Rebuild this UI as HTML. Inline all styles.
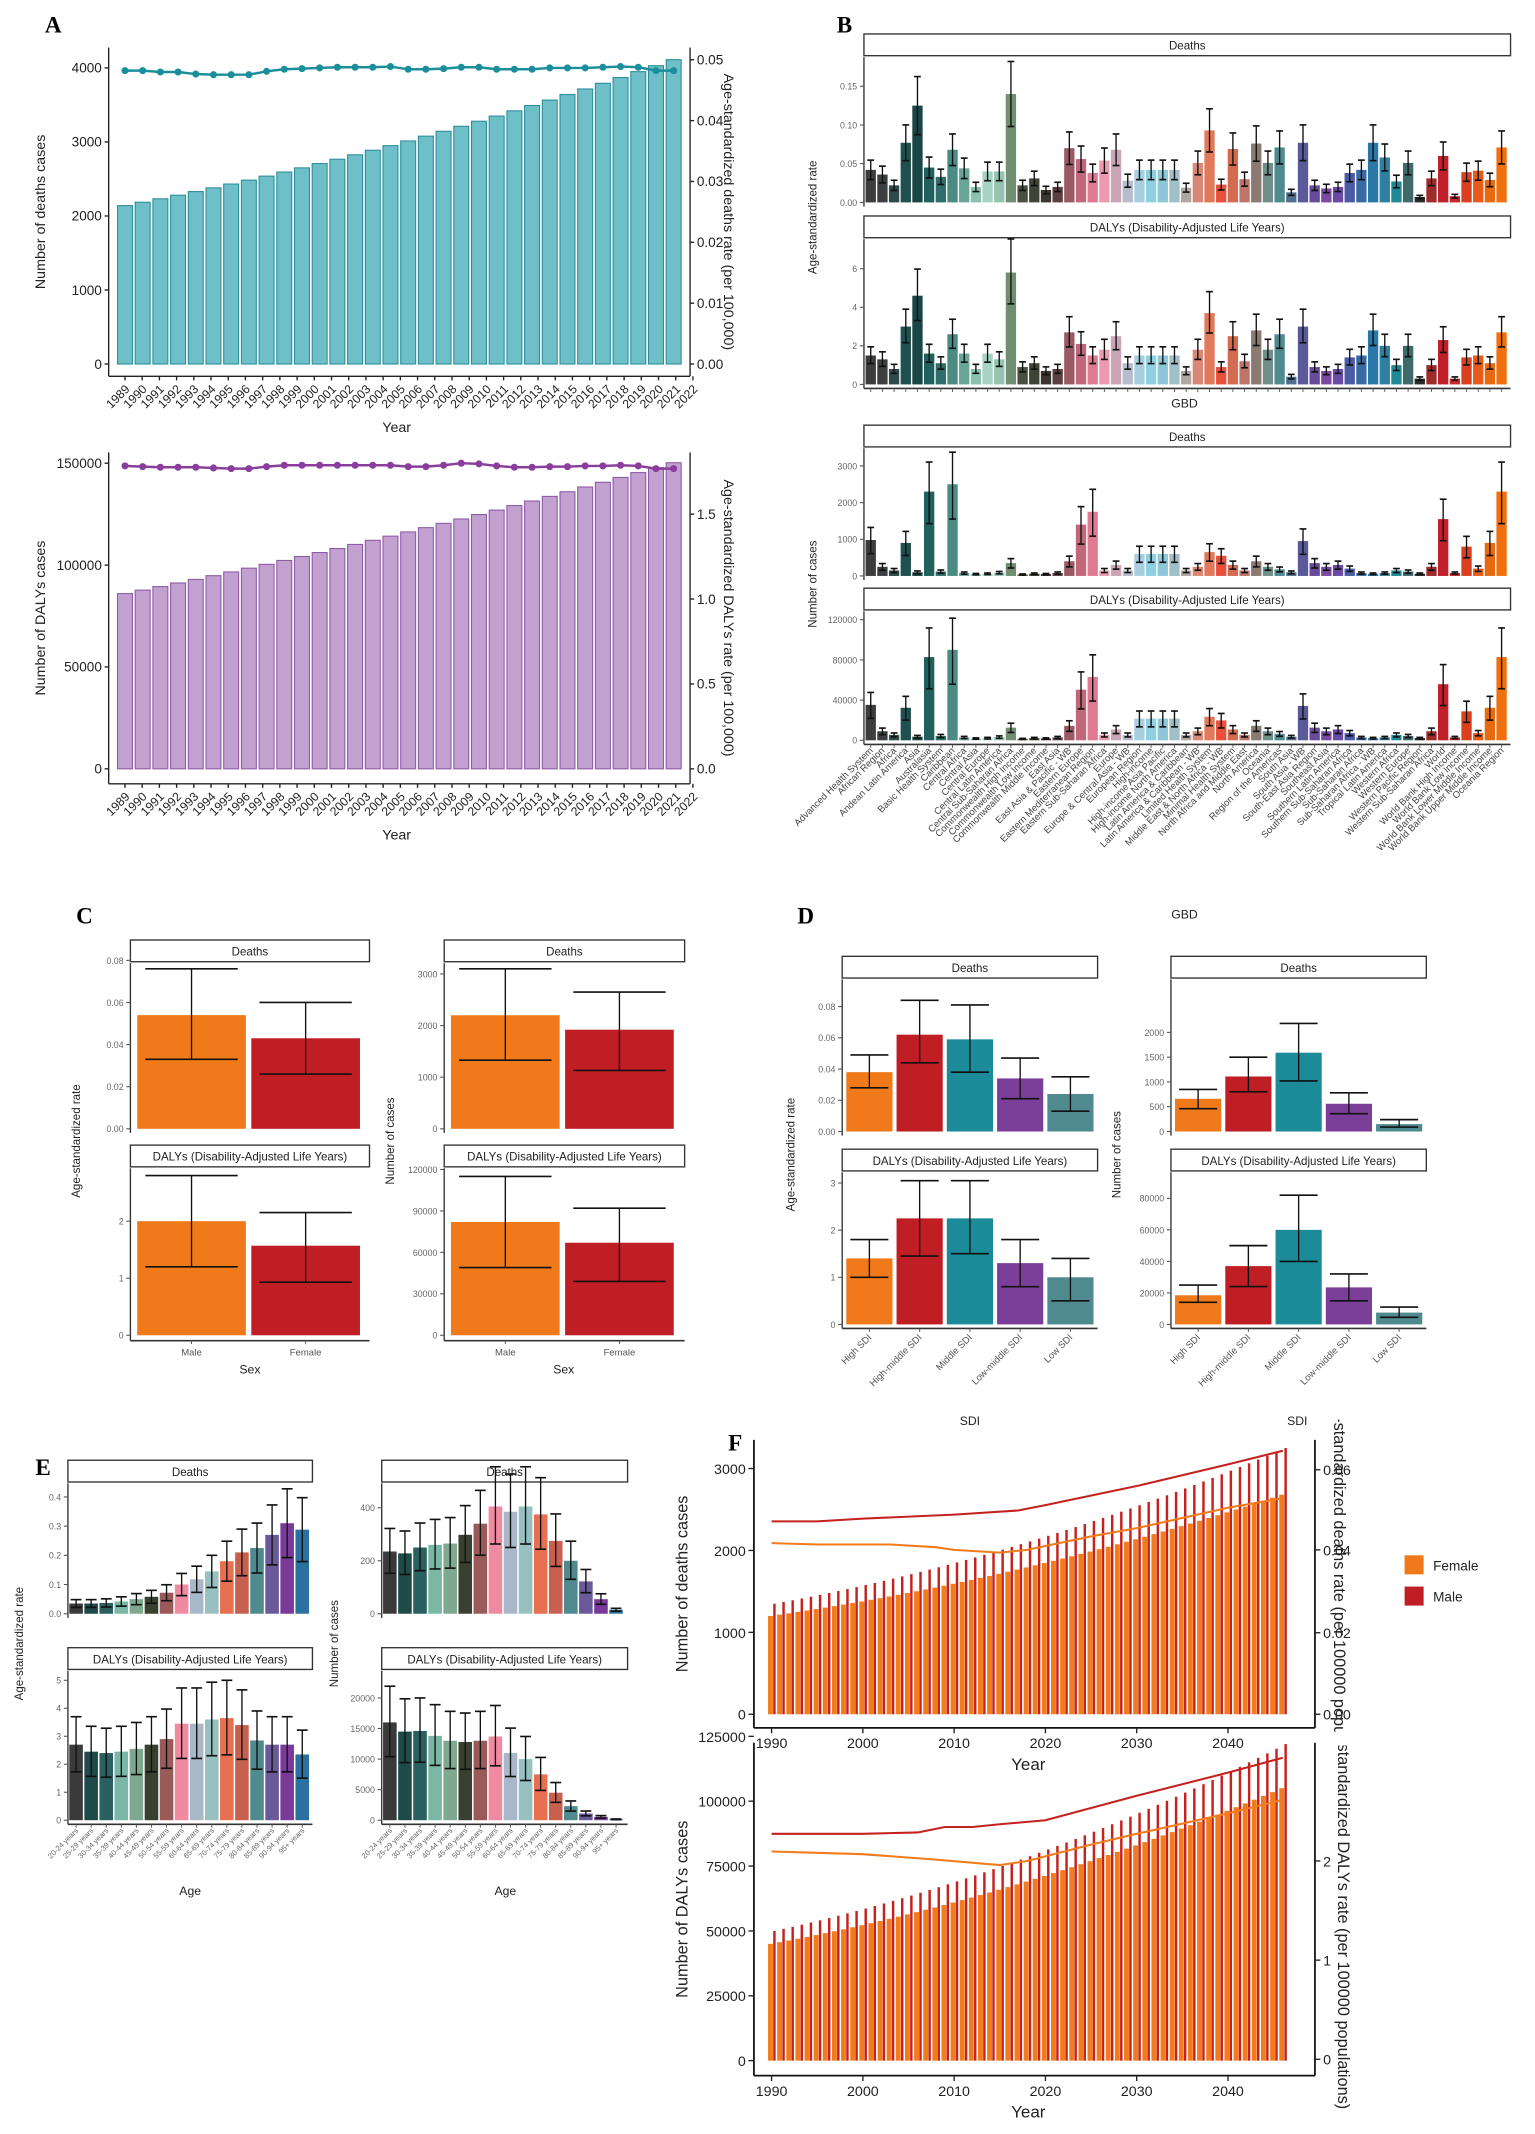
<!DOCTYPE html>
<html><head><meta charset="utf-8"><style>
html,body{margin:0;padding:0;background:#fff}
svg{display:block}
</style></head><body>
<svg id="s" xmlns="http://www.w3.org/2000/svg" width="1535" height="2134" viewBox="0 0 1130 1571" preserveAspectRatio="none" font-family="Liberation Sans, Arial, sans-serif">
<rect width="1130" height="1571" fill="#fff"/>
<text x="33" y="24" font-family="Liberation Serif, serif" font-weight="bold" font-size="17">A</text>
<text x="616" y="24" font-family="Liberation Serif, serif" font-weight="bold" font-size="17">B</text>
<text x="56" y="680" font-family="Liberation Serif, serif" font-weight="bold" font-size="17">C</text>
<text x="587" y="680" font-family="Liberation Serif, serif" font-weight="bold" font-size="17">D</text>
<text x="26" y="1086" font-family="Liberation Serif, serif" font-weight="bold" font-size="17">E</text>
<text x="536" y="1068" font-family="Liberation Serif, serif" font-weight="bold" font-size="17">F</text>
<defs><clipPath id="cf1"><rect x="960" y="1045" width="40" height="230"/></clipPath><clipPath id="cf2"><rect x="960" y="1285" width="40" height="285"/></clipPath></defs>
</svg>
<script>
const S=document.getElementById('s');const NS='http://www.w3.org/2000/svg';
function el(t,a,txt){const e=document.createElementNS(NS,t);for(const k in a)e.setAttribute(k,a[k]);if(txt!==undefined)e.textContent=txt;S.appendChild(e);return e;}
function L(x1,y1,x2,y2,c,w){return el('line',{x1,y1,x2,y2,stroke:c||'#222','stroke-width':w||1});}
function R(x,y,w,h,f,s,sw){return el('rect',{x,y,width:w,height:h,fill:f,stroke:s||'none','stroke-width':sw||0});}
function T(x,y,s,sz,anc,rot,col,extra){const a={x,y,'font-size':sz||8,'text-anchor':anc||'middle',fill:col||'#333'};if(rot)a.transform=`rotate(${rot} ${x} ${y})`;if(extra)Object.assign(a,extra);return el('text',a,s);}

/* ---------- Panel A ---------- */
function panelA(o){
  const n=32;
  for(let i=0;i<n;i++){const c=92+i*13.03;const v=o.val(i);const y=o.yL(v);R(c-5.5,y,11,o.yL(0)-y,o.fill,o.stroke,0.8);}
  let pts=[];for(let i=0;i<n;i++){pts.push([92+i*13.03,o.lineY[i]]);}
  el('polyline',{points:pts.map(p=>p.join(',')).join(' '),fill:'none',stroke:o.lc,'stroke-width':1.8});
  pts.forEach(p=>el('circle',{cx:p[0],cy:p[1],r:2.6,fill:o.lc}));
  L(80,o.top,80,o.bot,'#222',1);L(80,o.bot,508,o.bot,'#222',1);L(508,o.top,508,o.bot,'#222',1);
  o.lt.forEach(t=>{const y=o.yL(t);L(77,y,80,y);T(75,y+3.5,String(t),10,'end',0,'#222',{'font-family':'Liberation Sans Narrow, Liberation Sans, sans-serif'});});
  o.rt.forEach(t=>{const y=o.yR(t[0]);L(508,y,511,y);T(513,y+3.5,t[1],10,'start',0,'#222',{'font-family':'Liberation Sans Narrow, Liberation Sans, sans-serif'});});
  for(let k=0;k<34;k++){const x=92+k*12.67;L(x,o.bot,x,o.bot+3);T(x+4,o.bot+10,String(1989+k),9,'end',-45,'#222');}
  T(292,o.bot+41,'Year',10.5,'middle',0,'#222');
  T(33,(o.top+o.bot)/2,o.ylab,10.5,'middle',-90,'#222');
  T(533,(o.top+o.bot)/2,o.rlab,10.5,'middle',90,'#222');
}
const ly1=[52,52,53,53,54.5,55,55,55,52.5,51,50.5,50,49.5,49.5,49.5,49,51,51,50.5,49.5,49.5,51,51,51,50,50,50,49.5,49,49.5,52,52];
panelA({val:i=>2140+i*45+i*i*0.6,yL:v=>268-v*0.0545,yR:v=>268-v*4480,fill:'#6fbfc9',stroke:'#2b8f9b',lc:'#1a8f9b',lineY:ly1,
 top:35,bot:277,lt:[0,1000,2000,3000,4000],rt:[[0,'0.00'],[0.01,'0.01'],[0.02,'0.02'],[0.03,'0.03'],[0.04,'0.04'],[0.05,'0.05']],
 ylab:'Number of deaths cases',rlab:'Age-standardized deaths rate (per 100,000)'});
const ly2=[343,343.5,344,344,344,344.5,345,345,343.5,342.5,342.5,342.5,342.5,342.5,342.5,342.5,343.5,343.5,342.5,341,341.5,343,344,344,343.5,343.5,343,343,342.5,343,345,345];
panelA({val:i=>86000+i*1700+i*i*12,yL:v=>566-v*0.0015,yR:v=>566-v*125,fill:'#c2a1d1',stroke:'#8e5aa6',lc:'#8a3d9d',lineY:ly2,
 top:333,bot:577,lt:[0,50000,100000,150000],rt:[[0,'0.0'],[0.5,'0.5'],[1,'1.0'],[1.5,'1.5']],
 ylab:'Number of DALYs cases',rlab:'Age-standardized DALYs rate (per 100,000)'});

/* ---------- generic facet ---------- */
function facet(o){
  R(o.x0,o.sy,o.x1-o.x0,16,'#fff','#333',1);T((o.x0+o.x1)/2,o.sy+11.5,o.title,o.tsz||8.5,'middle',0,'#222');
  L(o.x0,o.sy+17,o.x0,o.axb,'#333',1);
  o.ticks.forEach(t=>{const y=o.base-t[0]*o.k;L(o.x0-3,y,o.x0,y,'#555',0.8);T(o.x0-5,y+2.5,t[1],o.fsz||7,'end',0,'#666');});
  o.bars.forEach(b=>{const y=o.base-b.v*o.k;R(b.c-o.bw/2,y,o.bw,o.base-y,b.col);
    const yh=o.base-b.hi*o.k,yl=o.base-b.lo*o.k,cw=o.cw||o.bw*0.6;
    L(b.c,yh,b.c,yl,'#111',1);L(b.c-cw/2,yh,b.c+cw/2,yh,'#111',1.2);L(b.c-cw/2,yl,b.c+cw/2,yl,'#111',1.2);});
  if(o.xaxis){L(o.x0,o.axb,o.x1,o.axb,'#333',1.2);o.bars.forEach(b=>L(b.c,o.axb,b.c,o.axb+2.5,'#555',0.7));}
}

/* ---------- Panel B ---------- */
const bcol=['#3d3d3d','#3a4040','#2f4a4a','#1f4f4f','#1a4545','#22605e','#2e6f6c','#4a8c84','#6aa59a','#8cc1b2','#a6d3c3','#94c3b0','#6f8f70','#4a4f40','#3d4435','#3b3530','#5a4040','#9a5a64','#c0687a','#e07a92','#ec9ab0','#c9a5b5','#b7bccc','#a8cfe0','#8fd0e0','#8ec8d8','#a0bfc8','#b0a8a0','#d98878','#e07a5a','#e8503c','#d46a50','#c0736a','#8a7a72','#6f8f8a','#4f8a8f','#4f6f8f','#5a5a9a','#6a4a9a','#7a4aa0','#6a4aa5','#4a5aa5','#3a6aa5','#2a78a8','#2f7fa0','#1f8a95','#3f6a6a','#2a2a2a','#a02a2a','#c0202a','#c82828','#d84020','#e85a18','#e86a10','#f07010'];
const bd=[.042,.036,.022,.077,.125,.045,.033,.068,.044,.020,.040,.040,.14,.022,.031,.016,.020,.070,.056,.038,.054,.068,.028,.042,.042,.042,.042,.019,.051,.093,.023,.069,.030,.076,.051,.071,.013,.077,.022,.018,.020,.038,.042,.077,.058,.027,.051,.007,.031,.060,.008,.039,.041,.029,.071];
const bD=[1.5,1.3,.8,3.0,4.6,1.6,1.1,2.6,1.6,.8,1.6,1.3,5.8,.9,1.1,.7,.8,2.7,2.1,1.5,1.8,2.5,1.1,1.5,1.5,1.5,1.5,.7,1.8,3.7,.9,2.5,1.2,2.8,1.8,2.6,.4,3.0,.9,.7,.8,1.4,1.5,2.8,2.0,1.0,2.0,.3,1.0,2.3,.3,1.4,1.5,1.1,2.7];
const bn=[980,250,150,900,100,2300,120,2500,80,50,60,90,350,40,60,50,80,400,1400,1750,150,300,150,600,600,600,600,150,250,650,550,300,150,400,250,180,100,950,350,250,300,200,80,60,80,150,120,60,250,1550,80,800,200,900,2300];
const bnames=['Advanced Health System','African Region','Africa','Andean Latin America','Asia','Australasia','Basic Health System','Caribbean','Central Africa','Central Asia','Central Europe','Central Latin America','Central Sub-Saharan Africa','Commonwealth High Income','Commonwealth Low Income','Commonwealth Middle Income','East Asia','East Asia & Pacific - WB','Eastern Europe','Eastern Mediterranean Region','Eastern Sub-Saharan Africa','Europe','Europe & Central Asia - WB','European Region','High-income','High-income Asia Pacific','High-income North America','Latin America & Caribbean','Latin America & Caribbean - WB','Limited Health System','Middle East & North Africa - WB','Minimal Health System','North Africa and Middle East','North America','Oceania','Region of the Americas','South Asia','South Asia - WB','South-East Asia Region','Southeast Asia','Southern Latin America','Southern Sub-Saharan Africa','Sub-Saharan Africa','Sub-Saharan Africa - WB','Tropical Latin America','Western Africa','Western Europe','Western Pacific Region','Western Sub-Saharan Africa','World','World Bank High Income','World Bank Low Income','World Bank Lower Middle Income','World Bank Upper Middle Income','Oceania Region'];
const bc=i=>641+i*8.6;
function mk(arr,hf,lf){return arr.map((v,i)=>({c:bc(i),v,hi:v*hf,lo:v*lf,col:bcol[i]}));}
facet({x0:636,x1:1112,sy:25,title:'Deaths',base:149,k:570,axb:152,bw:7.6,cw:5,fsz:6.5,ticks:[[0,'0.00'],[.05,'0.05'],[.1,'0.10'],[.15,'0.15']],bars:mk(bd,1.3,0.7)});
facet({x0:636,x1:1112,sy:159,title:'DALYs (Disability-Adjusted Life Years)',base:283,k:14.2,axb:286,bw:7.6,cw:5,fsz:6.5,xaxis:true,ticks:[[0,'0'],[2,'2'],[4,'4'],[6,'6']],bars:mk(bD,1.3,0.72)});
T(872,300,'GBD',9,'middle',0,'#222');
T(601,160,'Age-standardized rate',8.5,'middle',-90,'#222');
facet({x0:636,x1:1112,sy:313,title:'Deaths',base:424,k:0.027,axb:427,bw:7.6,cw:5,fsz:6.5,ticks:[[0,'0'],[1000,'1000'],[2000,'2000'],[3000,'3000']],bars:mk(bn,1.35,0.62)});
facet({x0:636,x1:1112,sy:433,title:'DALYs (Disability-Adjusted Life Years)',base:545,k:0.00074,axb:548,bw:7.6,cw:5,fsz:6.5,xaxis:true,ticks:[[0,'0'],[40000,'40000'],[80000,'80000'],[120000,'120000']],bars:mk(bn.map(v=>v*36),1.35,0.62)});
bnames.forEach((nm,i)=>T(bc(i)+2,553,nm,7,'end',-45,'#444'));
T(872,676,'GBD',9,'middle',0,'#222');
T(601,430,'Number of cases',8.5,'middle',-90,'#222');

/* ---------- Panel C ---------- */
const OR='#f07a1a',RD='#bf1e24';
function cb(vals){return [{c:141,v:vals[0],hi:vals[1],lo:vals[2],col:OR},{c:225,v:vals[3],hi:vals[4],lo:vals[5],col:RD}];}
facet({x0:96,x1:272,sy:692,title:'Deaths',base:831,k:1550,axb:834,bw:80,cw:68,fsz:6.5,ticks:[[0,'0.00'],[.02,'0.02'],[.04,'0.04'],[.06,'0.06'],[.08,'0.08']],bars:cb([.054,.076,.033,.043,.060,.026])});
facet({x0:96,x1:272,sy:843,title:'DALYs (Disability-Adjusted Life Years)',base:983,k:42,axb:987,bw:80,cw:68,fsz:6.5,xaxis:true,ticks:[[0,'0'],[1,'1'],[2,'2']],bars:cb([2.0,2.8,1.2,1.57,2.15,0.93])});
T(141,998,'Male',7,'middle',0,'#555');T(225,998,'Female',7,'middle',0,'#555');T(184,1011,'Sex',9,'middle',0,'#222');
T(59,840,'Age-standardized rate',8.5,'middle',-90,'#222');
function cb2(vals){return [{c:372,v:vals[0],hi:vals[1],lo:vals[2],col:OR},{c:456,v:vals[3],hi:vals[4],lo:vals[5],col:RD}];}
facet({x0:327,x1:504,sy:692,title:'Deaths',base:831,k:0.038,axb:834,bw:80,cw:68,fsz:6.5,ticks:[[0,'0'],[1000,'1000'],[2000,'2000'],[3000,'3000']],bars:cb2([2200,3100,1330,1920,2650,1130])});
facet({x0:327,x1:504,sy:843,title:'DALYs (Disability-Adjusted Life Years)',base:983,k:0.001017,axb:987,bw:80,cw:68,fsz:6.5,xaxis:true,ticks:[[0,'0'],[30000,'30000'],[60000,'60000'],[90000,'90000'],[120000,'120000']],bars:cb2([82000,115000,49000,67000,92000,39000])});
T(372,998,'Male',7,'middle',0,'#555');T(456,998,'Female',7,'middle',0,'#555');T(415,1011,'Sex',9,'middle',0,'#222');
T(290,840,'Number of cases',8.5,'middle',-90,'#222');

/* ---------- Panel D ---------- */
const dcol=['#f07a1a','#bf1e24','#1b8a99','#7b3f99','#4f8a8f'];
const sdi=['High SDI','High-middle SDI','Middle SDI','Low-middle SDI','Low SDI'];
function db(x0,a){return a.map((t,i)=>({c:x0+20+i*37,v:t[0],hi:t[1],lo:t[2],col:dcol[i]}));}
facet({x0:620,x1:808,sy:704,title:'Deaths',base:833,k:1150,axb:836,bw:34,cw:28,fsz:6.5,ticks:[[0,'0.00'],[.02,'0.02'],[.04,'0.04'],[.06,'0.06'],[.08,'0.08']],bars:db(620,[[.038,.049,.028],[.062,.084,.044],[.059,.081,.038],[.034,.047,.021],[.024,.035,.013]])});
facet({x0:620,x1:808,sy:846,title:'DALYs (Disability-Adjusted Life Years)',base:975,k:34.7,axb:978,bw:34,cw:28,fsz:6.5,xaxis:true,ticks:[[0,'0'],[1,'1'],[2,'2'],[3,'3']],bars:db(620,[[1.4,1.8,1.0],[2.25,3.05,1.45],[2.25,3.05,1.5],[1.3,1.8,0.8],[1.0,1.4,0.5]])});
sdi.forEach((s,i)=>T(620+22+i*37,985,s,7,'end',-45,'#555'));
T(714,1049,'SDI',9,'middle',0,'#222');T(585,850,'Age-standardized rate',8.5,'middle',-90,'#222');
facet({x0:862,x1:1050,sy:704,title:'Deaths',base:833,k:0.0365,axb:836,bw:34,cw:28,fsz:6.5,ticks:[[0,'0'],[500,'500'],[1000,'1000'],[1500,'1500'],[2000,'2000']],bars:db(862,[[660,850,460],[1110,1500,800],[1590,2180,1020],[560,780,360],[150,240,90]])});
facet({x0:862,x1:1050,sy:846,title:'DALYs (Disability-Adjusted Life Years)',base:975,k:0.00116,axb:978,bw:34,cw:28,fsz:6.5,xaxis:true,ticks:[[0,'0'],[20000,'20000'],[40000,'40000'],[60000,'60000'],[80000,'80000']],bars:db(862,[[18500,25000,14000],[37000,50000,24000],[60000,82000,40000],[23500,32000,15000],[7500,11000,4500]])});
sdi.forEach((s,i)=>T(862+22+i*37,985,s,7,'end',-45,'#555'));
T(955,1049,'SDI',9,'middle',0,'#222');T(825,850,'Number of cases',8.5,'middle',-90,'#222');

/* ---------- Panel E ---------- */
const ecol=['#3a3a3a','#1f4a4a','#2a6060','#7ab8a5','#7fa890','#3a4030','#9a5a5a','#f08aa0','#a8b8c8','#98c0c0','#e87050','#c86050','#4f8a8f','#6a5a9a','#7a3a9a','#2a70a0'];
const ages=['20-24 years','25-29 years','30-34 years','35-39 years','40-44 years','45-49 years','50-54 years','55-59 years','60-64 years','65-69 years','70-74 years','75-79 years','80-84 years','85-89 years','90-94 years','95+ years'];
function eb(x0,a,hf,lf){return a.map((v,i)=>({c:x0+6+i*11.1,v,hi:v*hf,lo:v*lf,col:ecol[i]}));}
const er=[.035,.035,.037,.042,.05,.058,.072,.10,.118,.145,.18,.21,.225,.27,.31,.288];
const eD=[2.7,2.45,2.4,2.45,2.55,2.7,2.9,3.45,3.45,3.6,3.65,3.4,2.85,2.7,2.7,2.35];
facet({x0:50,x1:230,sy:1075,title:'Deaths',base:1188,k:215,axb:1191,bw:10,cw:8,fsz:6.5,ticks:[[0,'0.0'],[.1,'0.1'],[.2,'0.2'],[.3,'0.3'],[.4,'0.4']],bars:eb(50,er,1.38,0.62)});
facet({x0:50,x1:230,sy:1213,title:'DALYs (Disability-Adjusted Life Years)',base:1340,k:20.6,axb:1343,bw:10,cw:8,fsz:6.5,xaxis:true,ticks:[[0,'0'],[1,'1'],[2,'2'],[3,'3'],[4,'4'],[5,'5']],bars:eb(50,eD,1.37,0.64)});
ages.forEach((s,i)=>T(50+8+i*11.1,1348,s,5.5,'end',-45,'#666'));
T(140,1395,'Age',9,'middle',0,'#222');T(17,1210,'Age-standardized rate',8.5,'middle',-90,'#222');
const en=[235,228,250,260,265,298,340,405,385,405,375,275,200,122,55,15];
const eN=[16000,14500,14600,13800,13000,12800,13000,13700,11000,10000,7500,4500,2300,1100,550,150];
facet({x0:281,x1:462,sy:1075,title:'Deaths',base:1188,k:0.195,axb:1191,bw:10,cw:8,fsz:6.5,ticks:[[0,'0'],[200,'200'],[400,'400']],bars:eb(281,en,1.37,0.65)});
facet({x0:281,x1:462,sy:1213,title:'DALYs (Disability-Adjusted Life Years)',base:1340,k:0.0045,axb:1343,bw:10,cw:8,fsz:6.5,xaxis:true,ticks:[[0,'0'],[5000,'5000'],[10000,'10000'],[15000,'15000'],[20000,'20000']],bars:eb(281,eN,1.37,0.65)});
ages.forEach((s,i)=>T(281+8+i*11.1,1348,s,5.5,'end',-45,'#666'));
T(372,1395,'Age',9,'middle',0,'#222');T(249,1210,'Number of cases',8.5,'middle',-90,'#222');

/* ---------- Panel F ---------- */
const FO='#f27b1c',FR='#c4211f';
function panelF(o){
  for(let y=1990;y<=2046;y++){const x=568+(y-1990)*6.72;const t=(y-1990)/56;
    const f=o.f0+(o.f1-o.f0)*(0.6*t+0.4*t*t), m=o.m0+(o.m1-o.m0)*(0.6*t+0.4*t*t);
    R(x+1.2,o.yL(m),1.8,o.yL(0)-o.yL(m),FR);R(x-2.6,o.yL(f),3.6,o.yL(0)-o.yL(f),FO);}
  el('polyline',{points:o.red.map(p=>(568+(p[0]-1990)*6.72)+','+p[1]).join(' '),fill:'none',stroke:FR,'stroke-width':1.5});
  el('polyline',{points:o.org.map(p=>(568+(p[0]-1990)*6.72)+','+p[1]).join(' '),fill:'none',stroke:FO,'stroke-width':1.5});
  L(555,o.top,555,o.bot,'#111',1.3);L(555,o.bot,968,o.bot,'#111',1.3);L(968,o.top,968,o.bot,'#111',1.3);
  o.lt.forEach(t=>{const y=o.yL(t);L(551,y,555,y);T(549,y+4,String(t),10.5,'end',0,'#222');});
  o.rt.forEach(t=>{L(968,t[0],972,t[0]);T(974,t[0]+4,t[1],10.5,'start',0,'#222');});
  [1990,2000,2010,2020,2030,2040].forEach(y=>{const x=568+(y-1990)*6.72;L(x,o.bot,x,o.bot+4);T(x,o.bot+15,String(y),10.5,'middle',0,'#222');});
  T(757,o.bot+31,'Year',12.5,'middle',0,'#222');
  T(506,(o.top+o.bot)/2,o.ylab,12,'middle',-90,'#222');
  const g=el('g',{'clip-path':o.clip});const tx=document.createElementNS(NS,'text');
  tx.setAttribute('x',o.rx);tx.setAttribute('y',(o.top+o.bot)/2);tx.setAttribute('font-size','12');tx.setAttribute('text-anchor','middle');tx.setAttribute('fill','#222');tx.setAttribute('transform',`rotate(90 ${o.rx} ${(o.top+o.bot)/2})`);tx.textContent=o.rlab;g.appendChild(tx);
}
panelF({yL:v=>1262-v*0.0603,f0:1200,f1:2680,m0:1350,m1:3250,top:1060,bot:1272,lt:[0,1000,2000,3000],
 rt:[[1262,'0.00'],[1202,'0.02'],[1141,'0.04'],[1082,'0.06']],
 red:[[1990,1120],[1995,1120],[2000,1118],[2010,1115],[2017,1112],[2020,1108],[2030,1094],[2040,1078],[2046,1068]],
 org:[[1990,1136],[1995,1137],[2003,1137],[2008,1139],[2010,1141],[2015,1143],[2018,1141],[2025,1131],[2030,1125],[2040,1110],[2046,1103]],
 ylab:'Number of deaths cases',rlab:'Age-standardized deaths rate (per 100000 population)',rx:982,clip:'url(#cf1)'});
panelF({yL:v=>1517-v*0.00191,f0:45000,f1:105000,m0:50000,m1:122000,top:1283,bot:1528,lt:[0,25000,50000,75000,100000,125000],
 rt:[[1516,'0'],[1443,'1'],[1370,'2']],
 red:[[1990,1350],[2000,1350],[2006,1349],[2009,1345],[2012,1345],[2015,1343],[2020,1340],[2030,1322],[2040,1305],[2046,1294]],
 org:[[1990,1363],[1995,1364],[2000,1365],[2008,1369],[2015,1373],[2018,1370],[2025,1358],[2030,1350],[2040,1335],[2046,1325]],
 ylab:'Number of DALYs cases',rlab:'Age-standardized DALYs rate (per 100000 populations)',rx:985,clip:'url(#cf2)'});
R(1034,1145,14,14,OR);T(1055,1156,'Female',10,'start',0,'#222');
R(1034,1168,14,14,RD);T(1055,1179,'Male',10,'start',0,'#222');
</script>
</body></html>
